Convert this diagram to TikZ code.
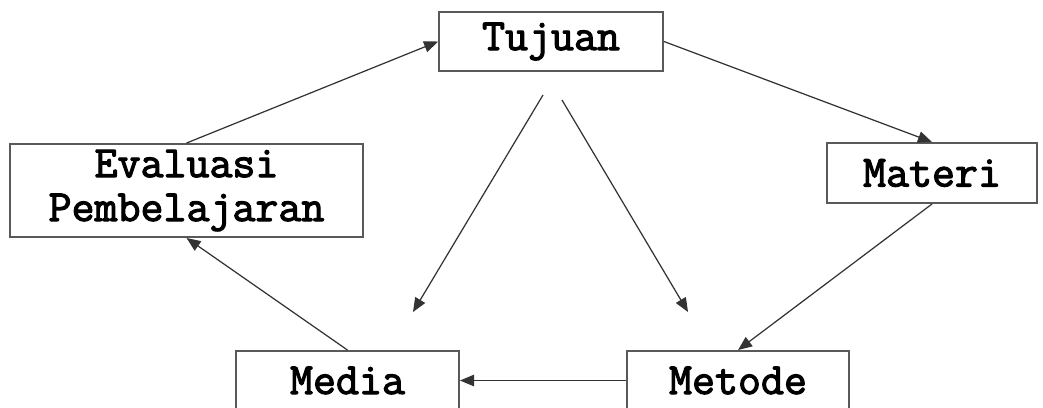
\documentclass[tikz,border=0pt]{standalone}
\usepackage{fontspec}
\newfontfamily\boxfont[FakeBold=2.5]{Latin Modern Mono}
\usepackage{tikz}
\usetikzlibrary{shapes,arrows.meta}
\usetikzlibrary{positioning}
\tikzstyle{block} = [rectangle, draw=black!65, line width=1.1pt, fill=white,
    font=\boxfont\fontsize{25.4}{25}\selectfont, align=center,
    inner sep=0pt, minimum height=1.18cm]
\tikzstyle{line} = [draw, black!80, line width=0.7pt,
    -{Triangle[length=8pt,width=6.5pt]}]

\begin{document}
\begin{tikzpicture}[x=0.02cm, y=-0.02cm]
  \clip (0,0) rectangle (1043,407);
  % Place nodes
  \node [block, minimum width=4.48cm] (tujuan) at (551,41.5) {Tujuan};
  \node [block, minimum width=7.06cm, minimum height=1.86cm] (evaluasi) at (186.5,190.5) {Evaluasi\\Pembelajaran};
  \node [block, minimum width=4.2cm, minimum height=1.2cm] (materi) at (932,173) {Materi};
  \node [block, minimum width=4.46cm] (media) at (347.5,380.5) {Media};
  \node [block, minimum width=4.44cm] (metode) at (738,380.5) {Metode};
  % loose ends of the two middle arrows
  \coordinate (fromleft) at (543,95);
  \coordinate (toleft) at (413,312);
  \coordinate (fromright) at (562,100);
  \coordinate (toright) at (688,312);

  % Draw edges
  \path [line] (evaluasi.north) -- (tujuan.west);
  \path [line] (tujuan.east) -- (materi.north);
  \path [line] (materi.south) -- (metode.north);
  \path [line] (metode.west) -- (media.east);
  \path [line] (media.north) -- (evaluasi.south);
  \path [line] (fromleft) -- (toleft);
  \path [line] (fromright) -- (toright);
\end{tikzpicture}
\end{document}
